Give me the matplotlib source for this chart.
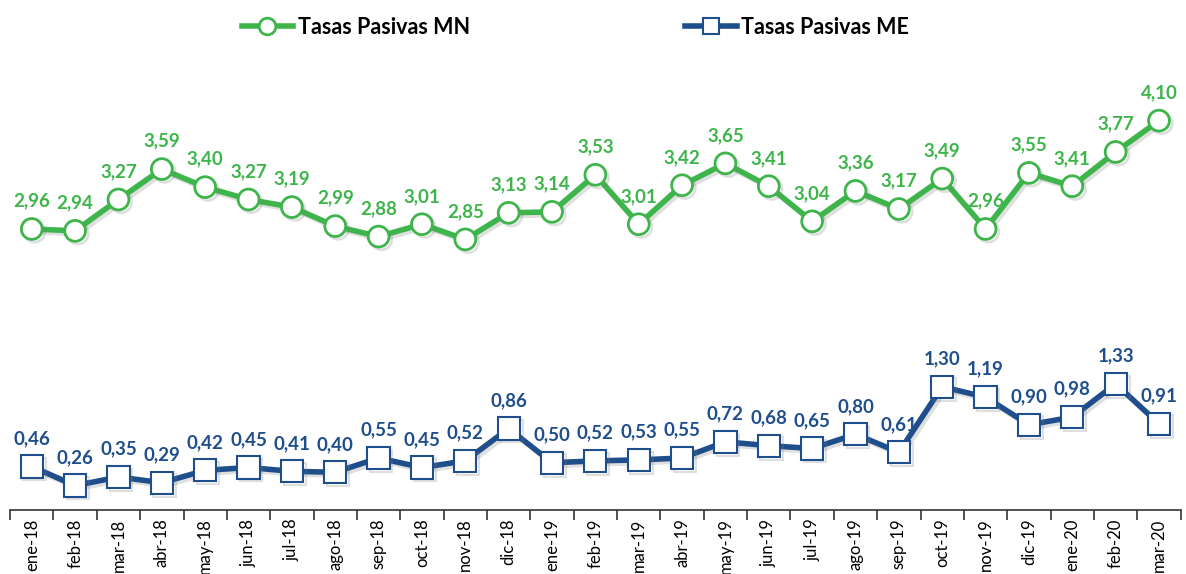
import matplotlib.pyplot as plt
import matplotlib.patheffects as pe
import numpy as np

meses = ["ene-18", "feb-18", "mar-18", "abr-18", "may-18", "jun-18", "jul-18", "ago-18",
         "sep-18", "oct-18", "nov-18", "dic-18", "ene-19", "feb-19", "mar-19", "abr-19",
         "may-19", "jun-19", "jul-19", "ago-19", "sep-19", "oct-19", "nov-19", "dic-19",
         "ene-20", "feb-20", "mar-20"]
tasas_mn = [2.96, 2.94, 3.27, 3.59, 3.40, 3.27, 3.19, 2.99, 2.88, 3.01, 2.85, 3.13, 3.14,
            3.53, 3.01, 3.42, 3.65, 3.41, 3.04, 3.36, 3.17, 3.49, 2.96, 3.55, 3.41, 3.77, 4.10]
tasas_me = [0.46, 0.26, 0.35, 0.29, 0.42, 0.45, 0.41, 0.40, 0.55, 0.45, 0.52, 0.86, 0.50,
            0.52, 0.53, 0.55, 0.72, 0.68, 0.65, 0.80, 0.61, 1.30, 1.19, 0.90, 0.98, 1.33, 0.91]

verde = "#3DB54A"
azul = "#1F4E8C"
plt.rcParams['font.family'] = ['Lato', 'DejaVu Sans']

fig = plt.figure(figsize=(11.86, 5.74), dpi=100)
ax = fig.add_axes([0.0085, 0.111, 0.987, 0.76])
x = np.arange(len(meses))

sombra = [pe.SimpleLineShadow(offset=(2, -2), alpha=0.25, shadow_color="gray"), pe.Normal()]

ax.plot(x, tasas_mn, color=verde, lw=4, marker="o", ms=15, mfc="white", mec=verde, mew=2,
        label="Tasas Pasivas MN", path_effects=sombra, zorder=3)
ax.plot(x, tasas_me, color=azul, lw=4, marker="s", ms=16, mfc="white", mec=azul, mew=1.5,
        label="Tasas Pasivas ME", path_effects=sombra, zorder=3)

# etiquetas de datos
for xi, v in zip(x, tasas_mn):
    ax.annotate(f"{v:.2f}".replace(".", ","), (xi, v), xytext=(0, 14), textcoords="offset points",
                ha="center", va="bottom", color=verde, fontsize=13.5, fontweight="bold")
for xi, v in zip(x, tasas_me):
    ax.annotate(f"{v:.2f}".replace(".", ","), (xi, v), xytext=(0, 14), textcoords="offset points",
                ha="center", va="bottom", color=azul, fontsize=13.5, fontweight="bold")

ax.set_xlim(-0.5, len(meses) - 0.5)
ax.set_ylim(0, 4.59)
ax.set_xticks(x)
ax.set_xticklabels(meses, rotation=90, fontsize=12)
ax.set_xticks(np.arange(-0.5, len(meses)), minor=True)
ax.tick_params(axis="x", which="major", length=0, pad=6)
ax.tick_params(axis="x", which="minor", length=7, width=1.2, color="#333333")
ax.set_yticks([])
for s in ["top", "right", "left"]:
    ax.spines[s].set_visible(False)
ax.spines["bottom"].set_linewidth(1.2)
ax.spines["bottom"].set_color("#333333")

leg = fig.legend(loc="upper center", bbox_to_anchor=(0.485, 1.005), ncol=2, frameon=False,
                 columnspacing=10, handlelength=2.4, handletextpad=0.2,
                 prop={"size": 15.5, "weight": "bold"})
for h in leg.legend_handles:
    h.set_markersize(12)
    h.set_path_effects([])

fig.savefig("out.png", dpi=100)
